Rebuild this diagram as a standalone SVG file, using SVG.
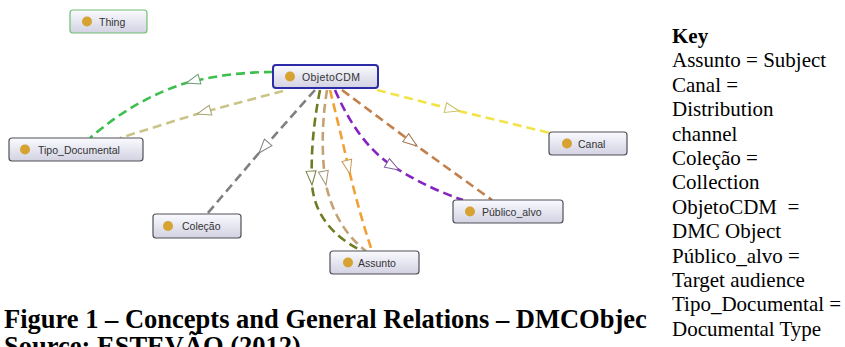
<svg xmlns="http://www.w3.org/2000/svg" width="845" height="347" viewBox="0 0 845 347">
<style>
.nb{fill:url(#ng);stroke:#505058;stroke-width:1.2}
.dot{fill:#d6a332}
.nt{font-family:"Liberation Sans",Arial,sans-serif;font-size:10.5px;fill:#333}
.e{fill:none;stroke-width:2.6;stroke-dasharray:9 5}
.cap{font-family:"Liberation Serif","Times New Roman",serif;font-weight:bold;font-size:26.5px;fill:#000}
.key{font-family:"Liberation Serif","Times New Roman",serif;font-size:21px;fill:#000;white-space:pre}
</style>
<defs>
<linearGradient id="ng" x1="0" y1="0" x2="0" y2="1">
<stop offset="0" stop-color="#fafaff"/>
<stop offset="1" stop-color="#d2d2e2"/>
</linearGradient>
<marker id="aGreen" markerUnits="userSpaceOnUse" viewBox="-15 -6 17 12" markerWidth="17" markerHeight="12" refX="0" refY="0" orient="auto"><path d="M0,0 L-14,-5 L-14,5 Z" fill="#fff" stroke="#6a9a70" stroke-width="1"/></marker>
<marker id="aKhaki" markerUnits="userSpaceOnUse" viewBox="-15 -6 17 12" markerWidth="17" markerHeight="12" refX="0" refY="0" orient="auto"><path d="M0,0 L-14,-5 L-14,5 Z" fill="#fff" stroke="#a8a070" stroke-width="1"/></marker>
<marker id="aGray" markerUnits="userSpaceOnUse" viewBox="-15 -6 17 12" markerWidth="17" markerHeight="12" refX="0" refY="0" orient="auto"><path d="M0,0 L-14,-5 L-14,5 Z" fill="#fff" stroke="#808080" stroke-width="1"/></marker>
<marker id="aOlive" markerUnits="userSpaceOnUse" viewBox="-15 -6 17 12" markerWidth="17" markerHeight="12" refX="0" refY="0" orient="auto"><path d="M0,0 L-14,-5 L-14,5 Z" fill="#fff" stroke="#7a8040" stroke-width="1"/></marker>
<marker id="aTan" markerUnits="userSpaceOnUse" viewBox="-15 -6 17 12" markerWidth="17" markerHeight="12" refX="0" refY="0" orient="auto"><path d="M0,0 L-14,-5 L-14,5 Z" fill="#fff" stroke="#a89070" stroke-width="1"/></marker>
<marker id="aOrange" markerUnits="userSpaceOnUse" viewBox="-15 -6 17 12" markerWidth="17" markerHeight="12" refX="0" refY="0" orient="auto"><path d="M0,0 L-14,-5 L-14,5 Z" fill="#fff" stroke="#c89a50" stroke-width="1"/></marker>
<marker id="aPurple" markerUnits="userSpaceOnUse" viewBox="-15 -6 17 12" markerWidth="17" markerHeight="12" refX="0" refY="0" orient="auto"><path d="M0,0 L-14,-5 L-14,5 Z" fill="#fff" stroke="#7a5a9a" stroke-width="1"/></marker>
<marker id="aBrown" markerUnits="userSpaceOnUse" viewBox="-15 -6 17 12" markerWidth="17" markerHeight="12" refX="0" refY="0" orient="auto"><path d="M0,0 L-14,-5 L-14,5 Z" fill="#fff" stroke="#a07858" stroke-width="1"/></marker>
<marker id="aYellow" markerUnits="userSpaceOnUse" viewBox="-15 -6 17 12" markerWidth="17" markerHeight="12" refX="0" refY="0" orient="auto"><path d="M0,0 L-14,-5 L-14,5 Z" fill="#fff" stroke="#c8c060" stroke-width="1"/></marker>
</defs>
<rect width="845" height="347" fill="#fff"/>

<g id="connectors">
<path class="e" stroke="#3dbf4e" marker-mid="url(#aGreen)" d="M273,72 Q228,72 186,83 Q135,99 90,138"/>
<path class="e" stroke="#cbc488" marker-mid="url(#aKhaki)" d="M283,91 Q245,101 197,114 Q158,126 120,138"/>
<path class="e" stroke="#808080" marker-mid="url(#aGray)" d="M315,90 L259,153 L207,214"/>
<path class="e" stroke="#6e7c24" marker-mid="url(#aOlive)" d="M320,90 Q310,140 312,185 Q316,228 362,251"/>
<path class="e" stroke="#c4a274" marker-mid="url(#aTan)" d="M327,90 Q319,140 326,185 Q336,228 366,251"/>
<path class="e" stroke="#f0a034" marker-mid="url(#aOrange)" d="M330,90 Q340,130 350,174 Q360,215 372,251"/>
<path class="e" stroke="#8422c2" marker-mid="url(#aPurple)" d="M335,90 Q360,148 399,170 Q430,189 463,200"/>
<path class="e" stroke="#c4804a" marker-mid="url(#aBrown)" d="M342,90 L417,146 L492,200"/>
<path class="e" stroke="#f2e448" marker-mid="url(#aYellow)" d="M377,90 L459,111 L550,133"/>
</g>

<g id="node-thing">
<rect class="nb" x="70" y="10" width="77" height="23" rx="3" style="stroke:#70c070"/>
<circle class="dot" cx="87" cy="21.5" r="5"/>
<text class="nt" x="99" y="25.5">Thing</text>
</g>
<g id="node-objetocdm">
<rect class="nb" x="273" y="65" width="105" height="23" rx="3" style="stroke:#2c2ca8;stroke-width:2"/>
<circle class="dot" cx="290" cy="76.5" r="5"/>
<text class="nt" x="302" y="80.5" letter-spacing="0.4">ObjetoCDM</text>
</g>
<g id="node-tipo-documental">
<rect class="nb" x="9" y="138" width="134" height="23" rx="3"/>
<circle class="dot" cx="25" cy="149.5" r="5"/>
<text class="nt" x="38" y="153.5">Tipo_Documental</text>
</g>
<g id="node-canal">
<rect class="nb" x="549" y="132" width="78" height="23" rx="3"/>
<circle class="dot" cx="567" cy="143.5" r="5"/>
<text class="nt" x="578" y="147.5">Canal</text>
</g>
<g id="node-publico-alvo">
<rect class="nb" x="453" y="200" width="110" height="23" rx="3"/>
<circle class="dot" cx="470" cy="211.5" r="5"/>
<text class="nt" x="482" y="215.5">Público_alvo</text>
</g>
<g id="node-colecao">
<rect class="nb" x="153" y="214" width="88" height="24" rx="3"/>
<circle class="dot" cx="168" cy="226" r="5"/>
<text class="nt" x="182" y="230">Coleção</text>
</g>
<g id="node-assunto">
<rect class="nb" x="330" y="251" width="89" height="23" rx="3"/>
<circle class="dot" cx="348" cy="262.5" r="5"/>
<text class="nt" x="358" y="266.5">Assunto</text>
</g>

<g id="caption">
<text class="cap" x="4" y="328">Figure 1 – Concepts and General Relations – DMCObjec</text>
<text class="cap" x="4" y="354.5">Source: ESTEVÃO (2012)</text>
</g>

<g id="key">
<text class="key" x="672" y="43" font-weight="bold">Key</text>
<text class="key" x="672" y="67.4">Assunto = Subject</text>
<text class="key" x="672" y="91.8">Canal =</text>
<text class="key" x="672" y="116.2">Distribution</text>
<text class="key" x="672" y="140.6">channel</text>
<text class="key" x="672" y="165">Coleção =</text>
<text class="key" x="672" y="189.4">Collection</text>
<text class="key" x="672" y="213.8">ObjetoCDM  =</text>
<text class="key" x="672" y="238.2">DMC Object</text>
<text class="key" x="672" y="262.6">Público_alvo =</text>
<text class="key" x="672" y="287">Target audience</text>
<text class="key" x="672" y="311.4">Tipo_Documental =</text>
<text class="key" x="672" y="335.8">Documental Type</text>
</g>
</svg>
